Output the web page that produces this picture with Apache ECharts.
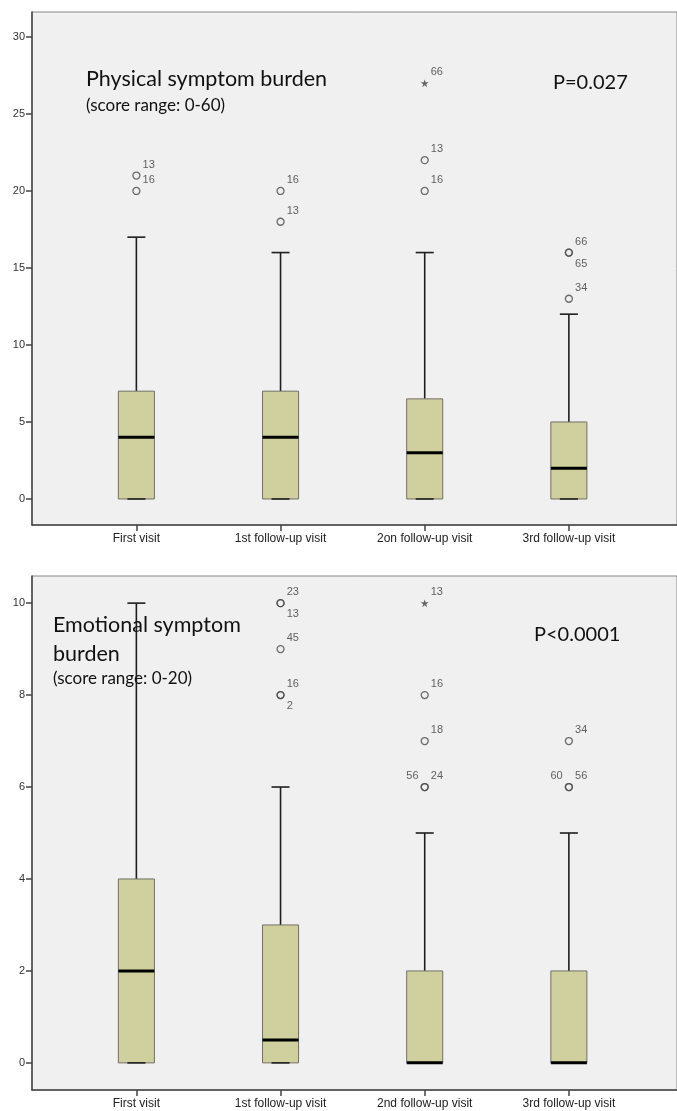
<!DOCTYPE html>
<html>
<head>
<meta charset="utf-8">
<script src="https://cdn.jsdelivr.net/npm/echarts@6/dist/echarts.min.js"></script>
<style>
  body { margin: 0; background: #fff; }
  #chart { width: 677px; height: 1111px; }
</style>
</head>
<body>
<div id="chart"></div>
<script>
// categories
const physCategories = ['First visit', '1st follow-up visit', '2on follow-up visit', '3rd follow-up visit']
const emoCategories = ['First visit', '1st follow-up visit', '2nd follow-up visit', '3rd follow-up visit']

// box values: [min, Q1, median, Q3, max]
const physBoxes = [
  [0, 0, 4, 7, 17],
  [0, 0, 4, 7, 16],
  [0, 0, 3, 6.5, 16],
  [0, 0, 2, 5, 12]
]
const emoBoxes = [
  [0, 0, 2, 4, 10],
  [0, 0, 0.5, 3, 6],
  [0, 0, 0, 2, 5],
  [0, 0, 0, 2, 5]
]

// outliers: [category index, value, case id, label place]
const physOutliers = [
  [0, 21, '13', 'ur'], [0, 20, '16', 'ur'],
  [1, 20, '16', 'ur'], [1, 18, '13', 'ur'],
  [2, 22, '13', 'ur'], [2, 20, '16', 'ur'],
  [3, 16, '66', 'ur'], [3, 16, '65', 'dr'], [3, 13, '34', 'ur']
]
const physExtremes = [[2, 27, '66', 'ur']]
const emoOutliers = [
  [1, 10, '23', 'ur'], [1, 10, '13', 'dr'], [1, 9, '45', 'ur'], [1, 8, '16', 'ur'], [1, 8, '2', 'dr'],
  [2, 8, '16', 'ur'], [2, 7, '18', 'ur'], [2, 6, '56', 'ul'], [2, 6, '24', 'ur'],
  [3, 7, '34', 'ur'], [3, 6, '60', 'ul'], [3, 6, '56', 'ur']
]
const emoExtremes = [[2, 10, '13', 'ur']]

// tick labels
const physTicks = [0, 5, 10, 15, 20, 25, 30]
const emoTicks = [0, 2, 4, 6, 8, 10]
const catTicks = [0, 1, 2, 3]

const chart = echarts.init(document.getElementById('chart'))

const labelPlace = {
  ur: { position: 'right', distance: 2, offset: [0, -11] },
  dr: { position: 'right', distance: 2, offset: [0, 11] },
  ul: { position: 'left', distance: 2, offset: [0, -11] }
}
const starPath = 'path://M50,0 L61,35 L98,35 L68,57 L79,91 L50,70 L21,91 L32,57 L2,35 L39,35 Z'

const renderBox = (params, api) => {
  const x = api.value(0)
  const bw = api.size([0.25, 0])[0]
  const lo = api.coord([x, api.value(1)])
  const q1 = api.coord([x, api.value(2)])
  const med = api.coord([x, api.value(3)])
  const q3 = api.coord([x, api.value(4)])
  const hi = api.coord([x, api.value(5)])
  const cx = lo[0]
  const whisker = { stroke: '#1e1e1e', lineWidth: 1.6 }
  return {
    type: 'group',
    children: [
      { type: 'line', shape: { x1: cx, y1: q3[1], x2: cx, y2: hi[1] }, style: whisker },
      { type: 'line', shape: { x1: cx - bw / 4, y1: hi[1], x2: cx + bw / 4, y2: hi[1] }, style: whisker },
      { type: 'rect', shape: { x: cx - bw / 2, y: q3[1], width: bw, height: q1[1] - q3[1] }, style: { fill: '#cfd09e', stroke: '#707064', lineWidth: 1 } },
      { type: 'line', shape: { x1: cx, y1: q1[1], x2: cx, y2: lo[1] }, style: whisker },
      { type: 'line', shape: { x1: cx - bw / 4, y1: lo[1], x2: cx + bw / 4, y2: lo[1] }, style: whisker },
      { type: 'line', shape: { x1: cx - bw / 2, y1: med[1], x2: cx + bw / 2, y2: med[1] }, style: { stroke: '#000', lineWidth: 3 } }
    ]
  }
}

const toPoints = (list) => list.map(([cat, v, id, pos]) => ({
  value: [cat, v],
  label: Object.assign({ formatter: id }, labelPlace[pos])
}))

const pointLabel = { show: true, fontSize: 11, color: '#3a3a3a', fontFamily: 'Liberation Sans, Arial, sans-serif' }

const makeXAxis = (gridIndex, names) => ({
  type: 'value',
  gridIndex,
  position: 'bottom',
  min: -0.724,
  max: 3.75,
  splitLine: { show: false },
  axisLine: { show: true, onZero: false, lineStyle: { color: '#444', width: 1.5 } },
  axisTick: { show: true, customValues: catTicks, length: 6, lineStyle: { color: '#444', width: 1.5 } },
  axisLabel: {
    customValues: catTicks,
    formatter: (v) => names[Math.round(v)],
    margin: 8,
    fontSize: 12,
    color: '#222',
    fontFamily: 'Liberation Sans, Arial, sans-serif'
  }
})

const makeYAxis = (gridIndex, min, max, ticks) => ({
  type: 'value',
  gridIndex,
  position: 'left',
  min,
  max,
  splitLine: { show: false },
  axisLine: { show: true, onZero: false, lineStyle: { color: '#444', width: 1.5 } },
  axisTick: { show: true, customValues: ticks, length: 6, lineStyle: { color: '#444', width: 1.5 } },
  axisLabel: {
    customValues: ticks,
    margin: 7,
    fontSize: 11,
    color: '#333',
    fontFamily: 'Liberation Sans, Arial, sans-serif'
  }
})

const titleText = (text, left, top, size) => ({
  text,
  left,
  top,
  padding: 0,
  z: 1,
  textStyle: { fontFamily: 'Lato, sans-serif', fontSize: size, fontWeight: 'normal', color: '#111' }
})

const option = {
  animation: false,
  backgroundColor: '#fff',
  title: [
    titleText('Physical symptom burden', 86, 68, 21.5),
    titleText('(score range: 0-60)', 86, 97, 17),
    titleText('P=0.027', 553, 73, 20),
    titleText('Emotional symptom', 53, 614, 21.5),
    titleText('burden', 53, 643, 21.5),
    titleText('(score range: 0-20)', 53, 670, 17),
    titleText('P<0.0001', 534, 625, 20)
  ],
  grid: [
    { left: 32, top: 12, right: -10, bottom: 586, show: true, backgroundColor: '#f0f0f0', borderColor: '#888', borderWidth: 1 },
    { left: 32, top: 576, right: -10, bottom: 21, show: true, backgroundColor: '#f0f0f0', borderColor: '#888', borderWidth: 1 }
  ],
  xAxis: [makeXAxis(0, physCategories), makeXAxis(1, emoCategories)],
  yAxis: [makeYAxis(0, -1.69, 31.62, physTicks), makeYAxis(1, -0.59, 10.59, emoTicks)],
  series: [
    {
      type: 'custom',
      xAxisIndex: 0,
      yAxisIndex: 0,
      renderItem: renderBox,
      encode: { x: 0, y: [1, 2, 3, 4, 5] },
      data: physBoxes.map((b, i) => [i].concat(b))
    },
    {
      type: 'custom',
      xAxisIndex: 1,
      yAxisIndex: 1,
      renderItem: renderBox,
      encode: { x: 0, y: [1, 2, 3, 4, 5] },
      data: emoBoxes.map((b, i) => [i].concat(b))
    },
    {
      type: 'scatter',
      xAxisIndex: 0,
      yAxisIndex: 0,
      symbol: 'circle',
      symbolSize: 7,
      itemStyle: { color: 'transparent', borderColor: '#4a4a4a', borderWidth: 1.3 },
      label: pointLabel,
      data: toPoints(physOutliers)
    },
    {
      type: 'scatter',
      xAxisIndex: 0,
      yAxisIndex: 0,
      symbol: starPath,
      symbolSize: 8,
      itemStyle: { color: '#444' },
      label: pointLabel,
      data: toPoints(physExtremes)
    },
    {
      type: 'scatter',
      xAxisIndex: 1,
      yAxisIndex: 1,
      symbol: 'circle',
      symbolSize: 7,
      itemStyle: { color: 'transparent', borderColor: '#4a4a4a', borderWidth: 1.3 },
      label: pointLabel,
      data: toPoints(emoOutliers)
    },
    {
      type: 'scatter',
      xAxisIndex: 1,
      yAxisIndex: 1,
      symbol: starPath,
      symbolSize: 8,
      itemStyle: { color: '#444' },
      label: pointLabel,
      data: toPoints(emoExtremes)
    }
  ]
}

chart.setOption(option)
</script>
</body>
</html>
